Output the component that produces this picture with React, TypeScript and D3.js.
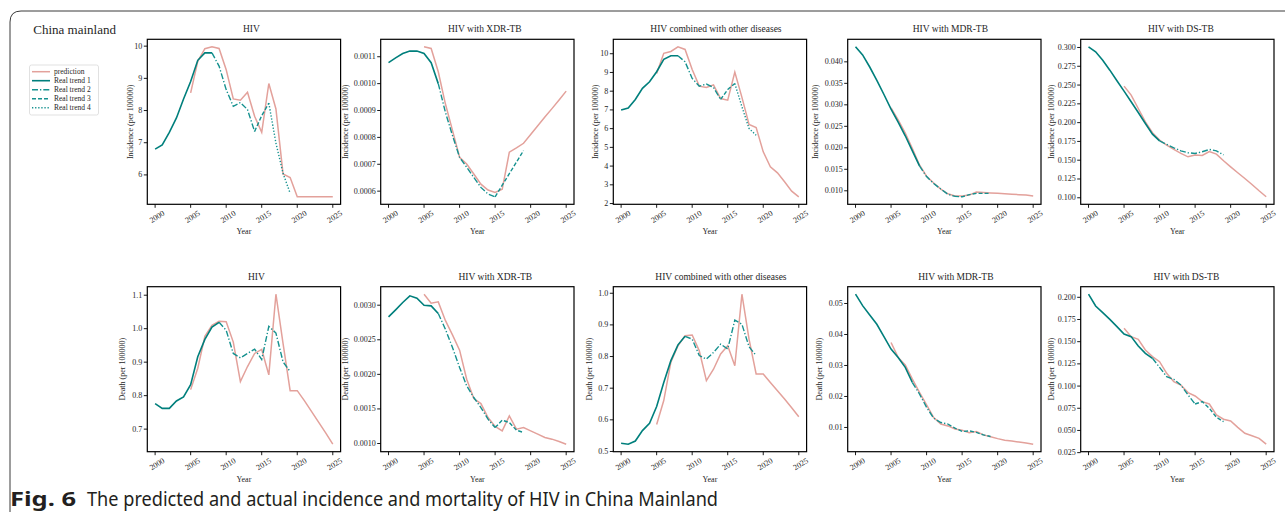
import React from 'react';
import * as d3 from 'd3';

// years of the observed series and of the model prediction
const realYears = [2000, 2001, 2002, 2003, 2004, 2005, 2006, 2007, 2008, 2009, 2010, 2011, 2012, 2013, 2014, 2015, 2016, 2017, 2018, 2019];
const predYears = [2005, 2006, 2007, 2008, 2009, 2010, 2011, 2012, 2013, 2014, 2015, 2016, 2017, 2018, 2019, 2020, 2021, 2022, 2023, 2024, 2025];
const xTicks = [2000, 2005, 2010, 2015, 2020, 2025];

// incidence (per 100000)
const incHivReal = [6.80, 6.93, 7.32, 7.77, 8.36, 8.90, 9.56, 9.79, 9.79, 9.38, 8.65, 8.13, 8.25, 8.03, 7.35, 7.84, 8.23, 6.99, 6.05, 5.43];
const incHivPred = [8.55, 9.53, 9.92, 9.98, 9.93, 9.27, 8.36, 8.32, 8.57, 7.82, 7.32, 8.84, 8.05, 6.03, 5.92, 5.32, 5.32, 5.32, 5.32, 5.32, 5.32];
const incXdrReal = [0.001078, 0.001096, 0.001112, 0.001121, 0.001121, 0.001112, 0.001078, 0.001000, 0.000894, 0.000807, 0.000726, 0.000689, 0.000651, 0.000614, 0.000589, 0.000579, 0.000622, 0.000665, 0.000708, 0.000751];
const incXdrPred = [0.001137, 0.001131, 0.001044, 0.000925, 0.000826, 0.000726, 0.000701, 0.000664, 0.000626, 0.000604, 0.000595, 0.000607, 0.000745, 0.000761, 0.000778, 0.000811, 0.000843, 0.000876, 0.000907, 0.000939, 0.000972];
const incOtherReal = [6.99, 7.10, 7.56, 8.15, 8.50, 9.04, 9.70, 9.89, 9.89, 9.57, 8.68, 8.27, 8.38, 8.20, 7.56, 8.09, 8.41, 7.17, 6.01, 5.65];
const incOtherPred = [8.95, 10.02, 10.12, 10.37, 10.23, 9.16, 8.27, 8.20, 8.34, 7.61, 7.52, 9.02, 7.67, 6.22, 6.06, 4.76, 3.96, 3.64, 3.16, 2.66, 2.36];
const incMdrReal = [0.0435, 0.0416, 0.0388, 0.0357, 0.0324, 0.0290, 0.0260, 0.0228, 0.0193, 0.0158, 0.0133, 0.0117, 0.0104, 0.0092, 0.0087, 0.0086, 0.0091, 0.0094, 0.0094, 0.0094];
const incMdrPred = [0.0293, 0.0265, 0.0234, 0.0198, 0.0160, 0.0134, 0.0118, 0.0104, 0.0093, 0.0088, 0.0088, 0.0090, 0.0097, 0.0096, 0.0095, 0.0094, 0.0093, 0.0092, 0.0091, 0.0090, 0.0088];
const incDsReal = [0.3009, 0.2942, 0.2831, 0.2698, 0.2557, 0.2419, 0.2277, 0.2135, 0.1989, 0.1847, 0.1758, 0.1710, 0.1665, 0.1625, 0.1599, 0.1590, 0.1612, 0.1643, 0.1625, 0.1570];
const incDsPred = [0.2486, 0.2366, 0.2188, 0.2011, 0.1865, 0.1767, 0.1701, 0.1643, 0.1590, 0.1545, 0.1568, 0.1563, 0.1616, 0.1581, 0.1492, 0.1412, 0.1333, 0.1257, 0.1177, 0.1093, 0.1013];

// death (per 100000)
const deathHivReal = [0.776, 0.762, 0.762, 0.784, 0.796, 0.833, 0.916, 0.968, 1.005, 1.019, 0.995, 0.926, 0.913, 0.926, 0.939, 0.908, 1.007, 0.987, 0.901, 0.872];
const deathHivPred = [0.818, 0.882, 0.977, 1.010, 1.022, 1.021, 0.960, 0.842, 0.887, 0.926, 0.938, 0.862, 1.103, 0.956, 0.815, 0.815, 0.785, 0.753, 0.721, 0.689, 0.655];
const deathXdrReal = [0.002831, 0.002933, 0.003039, 0.003135, 0.003101, 0.003000, 0.002990, 0.002880, 0.002653, 0.002388, 0.002099, 0.001834, 0.001665, 0.001520, 0.001352, 0.001231, 0.001337, 0.001304, 0.001193, 0.001159];
const deathXdrPred = [0.003159, 0.003029, 0.003048, 0.002780, 0.002570, 0.002350, 0.001930, 0.001650, 0.001578, 0.001376, 0.001246, 0.001183, 0.001400, 0.001207, 0.001231, 0.001183, 0.001135, 0.001087, 0.001063, 0.001029, 0.000990];
const deathOtherReal = [0.526, 0.523, 0.533, 0.566, 0.589, 0.642, 0.718, 0.787, 0.837, 0.864, 0.855, 0.803, 0.792, 0.813, 0.839, 0.824, 0.915, 0.902, 0.831, 0.803];
const deathOtherPred = [0.585, 0.661, 0.782, 0.834, 0.866, 0.868, 0.818, 0.724, 0.760, 0.808, 0.834, 0.771, 0.997, 0.855, 0.745, 0.745, 0.718, 0.692, 0.666, 0.638, 0.610];
const deathMdrReal = [0.0530, 0.0493, 0.0463, 0.0433, 0.0393, 0.0353, 0.0326, 0.0294, 0.0245, 0.0208, 0.0165, 0.0130, 0.0116, 0.0111, 0.0098, 0.0087, 0.0089, 0.0084, 0.0076, 0.0071];
const deathMdrPred = [0.0374, 0.0326, 0.0302, 0.0256, 0.0213, 0.0173, 0.0132, 0.0111, 0.0105, 0.0095, 0.0091, 0.0083, 0.0087, 0.0076, 0.0070, 0.0064, 0.0059, 0.0056, 0.0053, 0.0050, 0.0046];
const deathDsReal = [0.2035, 0.1902, 0.1827, 0.1752, 0.1670, 0.1587, 0.1557, 0.1452, 0.1369, 0.1313, 0.1211, 0.1106, 0.1076, 0.1012, 0.0900, 0.0798, 0.0825, 0.0750, 0.0648, 0.0599];
const deathDsPred = [0.1651, 0.1557, 0.1527, 0.1407, 0.1332, 0.1275, 0.1144, 0.1050, 0.1012, 0.0926, 0.0888, 0.0825, 0.0798, 0.0674, 0.0626, 0.0607, 0.0535, 0.0468, 0.0441, 0.0411, 0.0345];

// years where the real trend switches style (trend 1 -> 2 -> 3 -> 4)
const incHivBreaks = [2008, 2014, 2016];
const incXdrBreaks = [2007, 2015, 2019];
const incOtherBreaks = [2008, 2014, 2016];
const incMdrBreaks = [2009, 2014, 2019];
const incDsBreaks = [2010, 2019, 2019];
const deathHivBreaks = [2009, 2019, 2019];
const deathXdrBreaks = [2007, 2015, 2019];
const deathOtherBreaks = [2009, 2019, 2019];
const deathMdrBreaks = [2008, 2013, 2019];
const deathDsBreaks = [2009, 2015, 2019];

// y tick values
const incHivTicks = [6, 7, 8, 9, 10];
const incXdrTicks = [0.0006, 0.0007, 0.0008, 0.0009, 0.0010, 0.0011];
const incOtherTicks = [2, 3, 4, 5, 6, 7, 8, 9, 10];
const incMdrTicks = [0.010, 0.015, 0.020, 0.025, 0.030, 0.035, 0.040];
const incDsTicks = [0.100, 0.125, 0.150, 0.175, 0.200, 0.225, 0.250, 0.275, 0.300];
const deathHivTicks = [0.7, 0.8, 0.9, 1.0, 1.1];
const deathXdrTicks = [0.0010, 0.0015, 0.0020, 0.0025, 0.0030];
const deathOtherTicks = [0.5, 0.6, 0.7, 0.8, 0.9, 1.0];
const deathMdrTicks = [0.01, 0.02, 0.03, 0.04, 0.05];
const deathDsTicks = [0.025, 0.050, 0.075, 0.100, 0.125, 0.150, 0.175, 0.200];

const titles = ['HIV', 'HIV with XDR-TB', 'HIV combined with other diseases', 'HIV with MDR-TB', 'HIV with DS-TB'];
const legendLabels = ['prediction', 'Real trend 1', 'Real trend 2', 'Real trend 3', 'Real trend 4'];

const SERIF = '"Liberation Serif", "Times New Roman", serif';
const SANS = '"Noto Sans", "Open Sans", sans-serif';
const PINK = '#e3a19b';
const TEAL = '#007f7c';
const TEAL2 = '#15918f';
const TEXT = '#262626';

const trendStyles = [
  { color: TEAL, dash: undefined, width: 1.6 },
  { color: TEAL2, dash: '6 2 1.3 2', width: 1.4 },
  { color: TEAL2, dash: '4 2', width: 1.4 },
  { color: TEAL2, dash: '1.3 1.8', width: 1.4 },
];

const topRow = [
  { real: incHivReal, pred: incHivPred, breaks: incHivBreaks, ticks: incHivTicks, dec: 0 },
  { real: incXdrReal, pred: incXdrPred, breaks: incXdrBreaks, ticks: incXdrTicks, dec: 4 },
  { real: incOtherReal, pred: incOtherPred, breaks: incOtherBreaks, ticks: incOtherTicks, dec: 0 },
  { real: incMdrReal, pred: incMdrPred, breaks: incMdrBreaks, ticks: incMdrTicks, dec: 3 },
  { real: incDsReal, pred: incDsPred, breaks: incDsBreaks, ticks: incDsTicks, dec: 3 },
];
const bottomRow = [
  { real: deathHivReal, pred: deathHivPred, breaks: deathHivBreaks, ticks: deathHivTicks, dec: 1 },
  { real: deathXdrReal, pred: deathXdrPred, breaks: deathXdrBreaks, ticks: deathXdrTicks, dec: 4 },
  { real: deathOtherReal, pred: deathOtherPred, breaks: deathOtherBreaks, ticks: deathOtherTicks, dec: 1 },
  { real: deathMdrReal, pred: deathMdrPred, breaks: deathMdrBreaks, ticks: deathMdrTicks, dec: 2 },
  { real: deathDsReal, pred: deathDsPred, breaks: deathDsBreaks, ticks: deathDsTicks, dec: 3 },
];

// layout
const boxLefts = [147.3, 380.7, 613.3, 847.7, 1080.7];
const rowTops = [39.3, 286.7];
const BOX_W = 193.3;
const BOX_H = 165;
const yLabelOffsets = [[17, 35, 18, 32, 29], [25, 35, 24, 28, 29]];
const titleOffsets = [[7.5, 7.5, 6, 6, 3.5], [12.5, 18, 11, 11.5, 9]];

type Cfg = { real: number[]; pred: number[]; breaks: number[]; ticks: number[]; dec: number };

function Panel({ cfg, left, top, title, ylabel, ylOff, tOff }: { cfg: Cfg; left: number; top: number; title: string; ylabel: string; ylOff: number; tOff: number }) {
  const x = d3.scaleLinear().domain([1998.9, 2026.1]).range([left, left + BOX_W]);
  const [lo, hi] = d3.extent([...cfg.real, ...cfg.pred]) as [number, number];
  const pad = (hi - lo) * 0.05;
  const y = d3.scaleLinear().domain([lo - pad, hi + pad]).range([top + BOX_H, top]);
  const line = d3.line<[number, number]>().x((d) => x(d[0])).y((d) => y(d[1]));
  const fmt = d3.format(`.${cfg.dec}f`);
  const realPts: [number, number][] = realYears.map((yr, i) => [yr, cfg.real[i]]);
  const predPts: [number, number][] = predYears.map((yr, i) => [yr, cfg.pred[i]]);
  const bounds = [realYears[0], ...cfg.breaks, realYears[realYears.length - 1]];
  const segs = trendStyles.map((st, k) => ({
    st,
    pts: realPts.filter((p) => p[0] >= bounds[k] && p[0] <= bounds[k + 1]),
  }));
  const [d0, d1] = y.domain();
  const tol = (d1 - d0) * 0.02;
  const yt = cfg.ticks.filter((t) => t >= d0 - tol && t <= d1 + tol);
  const bottom = top + BOX_H;
  return (
    <g fontFamily={SERIF} fill={TEXT}>
      <path d={line(predPts) || ''} fill="none" stroke={PINK} strokeWidth={1.5} />
      {segs.map((s, k) =>
        s.pts.length > 1 ? (
          <path key={k} d={line(s.pts) || ''} fill="none" stroke={s.st.color} strokeWidth={s.st.width} strokeDasharray={s.st.dash} />
        ) : null
      )}
      <rect x={left} y={top} width={BOX_W} height={BOX_H} fill="none" stroke="#000" strokeWidth={1.2} />
      {xTicks.map((t) => (
        <g key={t}>
          <line x1={x(t)} x2={x(t)} y1={bottom} y2={bottom + 3.5} stroke="#000" strokeWidth={0.9} />
          <text
            transform={`translate(${x(t) + 2},${bottom + 12.5}) rotate(-32)`}
            textAnchor="middle"
            dominantBaseline="central"
            fontSize={8}
          >
            {t}
          </text>
        </g>
      ))}
      {yt.map((t) => (
        <g key={t}>
          <line x1={left - 3.5} x2={left} y1={y(t)} y2={y(t)} stroke="#000" strokeWidth={0.9} />
          <text x={left - 5} y={y(t)} textAnchor="end" dominantBaseline="central" fontSize={8}>
            {fmt(t)}
          </text>
        </g>
      ))}
      <text x={left + BOX_W / 2} y={bottom + 30} textAnchor="middle" fontSize={8}>
        Year
      </text>
      <text
        transform={`translate(${left - ylOff},${top + BOX_H / 2}) rotate(-90)`}
        textAnchor="middle"
        dominantBaseline="central"
        fontSize={8}
      >
        {ylabel}
      </text>
      <text x={left + BOX_W / 2 + tOff} y={top - 7} textAnchor="middle" fontSize={9.5}>
        {title}
      </text>
    </g>
  );
}

function Legend() {
  const rowY = (i: number) => 71.7 + i * 9;
  return (
    <g fontFamily={SERIF}>
      <rect x={29.5} y={65} width={69} height={50} rx={2} fill="#fff" stroke="#d9d9d9" strokeWidth={0.8} />
      {legendLabels.map((lab, i) => {
        const st = i === 0 ? { color: PINK, dash: undefined, width: 1.5 } : trendStyles[i - 1];
        return (
          <g key={lab}>
            <line x1={32} x2={50} y1={rowY(i)} y2={rowY(i)} stroke={st.color} strokeWidth={st.width} strokeDasharray={st.dash} />
            <text x={54} y={rowY(i)} dominantBaseline="central" fontSize={7.5} fill={TEXT}>
              {lab}
            </text>
          </g>
        );
      })}
    </g>
  );
}

export default function App() {
  const rows = [
    { cfgs: topRow, ylabel: 'Incidence (per 100000)' },
    { cfgs: bottomRow, ylabel: 'Death (per 100000)' },
  ];
  return (
    <svg width={1285} height={518} style={{ position: 'absolute', left: 0, top: 0, background: '#fff' }}>
      <rect width={1285} height={518} fill="#fff" />
      <path d="M 1285 11 H 21 Q 10 11 10 22 V 512" fill="none" stroke="#3a3a3a" strokeWidth={1} />
      <text x={33.3} y={34.3} fontFamily={SERIF} fontSize={13} fill={TEXT}>
        China mainland
      </text>
      <Legend />
      {rows.map((r, ri) =>
        r.cfgs.map((cfg, ci) => (
          <Panel
            key={`${ri}-${ci}`}
            cfg={cfg}
            left={boxLefts[ci]}
            top={rowTops[ri]}
            title={titles[ci]}
            ylabel={r.ylabel}
            ylOff={yLabelOffsets[ri][ci]}
            tOff={titleOffsets[ri][ci]}
          />
        ))
      )}
      <text x={10} y={506} fontFamily={SANS} fontSize={20} fill="#231f20" fontWeight="bold" textLength={66} lengthAdjust="spacingAndGlyphs">
        Fig. 6
      </text>
      <text x={87} y={506} fontFamily={SANS} fontSize={19} fill="#231f20" textLength={631} lengthAdjust="spacingAndGlyphs">
        The predicted and actual incidence and mortality of HIV in China Mainland
      </text>
    </svg>
  );
}
